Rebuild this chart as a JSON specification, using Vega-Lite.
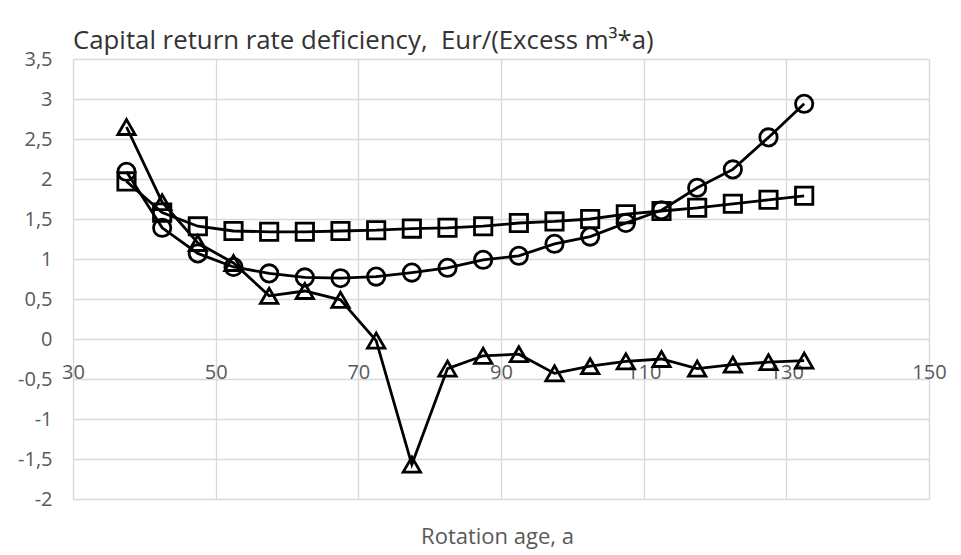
{
  "$schema": "https://vega.github.io/schema/vega-lite/v6.json",
  "width": 856,
  "height": 440,
  "autosize": {"type": "none"},
  "padding": {"left": 73, "top": 59, "right": 32, "bottom": 56},
  "background": "white",
  "title": {
    "text": "Capital return rate deficiency, \u00a0Eur/(Excess m³*a)",
    "anchor": "start",
    "frame": "group",
    "fontSize": 25.8,
    "font": "Open Sans",
    "fontWeight": "normal",
    "color": "#333333",
    "offset": -6
  },
  "config": {
    "locale": {"number": {"decimal": ",", "thousands": " ", "grouping": [3], "currency": ["", ""], "minus": "-"}},
    "view": {"stroke": null}
  },
  "data": {
    "values": [
      {"age": 37.5, "series": "Series1", "value": 2.09},
      {"age": 42.5, "series": "Series1", "value": 1.39},
      {"age": 47.5, "series": "Series1", "value": 1.07},
      {"age": 52.5, "series": "Series1", "value": 0.9},
      {"age": 57.5, "series": "Series1", "value": 0.82},
      {"age": 62.5, "series": "Series1", "value": 0.77},
      {"age": 67.5, "series": "Series1", "value": 0.76},
      {"age": 72.5, "series": "Series1", "value": 0.78},
      {"age": 77.5, "series": "Series1", "value": 0.83},
      {"age": 82.5, "series": "Series1", "value": 0.89},
      {"age": 87.5, "series": "Series1", "value": 0.99},
      {"age": 92.5, "series": "Series1", "value": 1.04},
      {"age": 97.5, "series": "Series1", "value": 1.19},
      {"age": 102.5, "series": "Series1", "value": 1.28},
      {"age": 107.5, "series": "Series1", "value": 1.45},
      {"age": 112.5, "series": "Series1", "value": 1.61},
      {"age": 117.5, "series": "Series1", "value": 1.89},
      {"age": 122.5, "series": "Series1", "value": 2.12},
      {"age": 127.5, "series": "Series1", "value": 2.52},
      {"age": 132.5, "series": "Series1", "value": 2.94},
      {"age": 37.5, "series": "Series2", "value": 1.97},
      {"age": 42.5, "series": "Series2", "value": 1.58},
      {"age": 47.5, "series": "Series2", "value": 1.41},
      {"age": 52.5, "series": "Series2", "value": 1.35},
      {"age": 57.5, "series": "Series2", "value": 1.34},
      {"age": 62.5, "series": "Series2", "value": 1.34},
      {"age": 67.5, "series": "Series2", "value": 1.35},
      {"age": 72.5, "series": "Series2", "value": 1.36},
      {"age": 77.5, "series": "Series2", "value": 1.38},
      {"age": 82.5, "series": "Series2", "value": 1.39},
      {"age": 87.5, "series": "Series2", "value": 1.41},
      {"age": 92.5, "series": "Series2", "value": 1.45},
      {"age": 97.5, "series": "Series2", "value": 1.47},
      {"age": 102.5, "series": "Series2", "value": 1.5},
      {"age": 107.5, "series": "Series2", "value": 1.56},
      {"age": 112.5, "series": "Series2", "value": 1.6},
      {"age": 117.5, "series": "Series2", "value": 1.64},
      {"age": 122.5, "series": "Series2", "value": 1.69},
      {"age": 127.5, "series": "Series2", "value": 1.74},
      {"age": 132.5, "series": "Series2", "value": 1.79},
      {"age": 37.5, "series": "Series3", "value": 2.65},
      {"age": 42.5, "series": "Series3", "value": 1.71},
      {"age": 47.5, "series": "Series3", "value": 1.2},
      {"age": 52.5, "series": "Series3", "value": 0.95},
      {"age": 57.5, "series": "Series3", "value": 0.54},
      {"age": 62.5, "series": "Series3", "value": 0.6},
      {"age": 67.5, "series": "Series3", "value": 0.49},
      {"age": 72.5, "series": "Series3", "value": -0.02},
      {"age": 77.5, "series": "Series3", "value": -1.57},
      {"age": 82.5, "series": "Series3", "value": -0.37},
      {"age": 87.5, "series": "Series3", "value": -0.21},
      {"age": 92.5, "series": "Series3", "value": -0.19},
      {"age": 97.5, "series": "Series3", "value": -0.43},
      {"age": 102.5, "series": "Series3", "value": -0.34},
      {"age": 107.5, "series": "Series3", "value": -0.28},
      {"age": 112.5, "series": "Series3", "value": -0.25},
      {"age": 117.5, "series": "Series3", "value": -0.37},
      {"age": 122.5, "series": "Series3", "value": -0.32},
      {"age": 127.5, "series": "Series3", "value": -0.29},
      {"age": 132.5, "series": "Series3", "value": -0.27}
    ]
  },
  "encoding": {
    "x": {
      "field": "age",
      "type": "quantitative",
      "scale": {"domain": [30, 150], "nice": false, "zero": false},
      "axis": {
        "values": [30, 50, 70, 90, 110, 130, 150],
        "format": "d",
        "title": "Rotation age, a",
        "offset": -160,
        "domain": false,
        "ticks": false,
        "labelFlush": false,
        "labelOverlap": false,
        "labelPadding": 39,
        "labelBaseline": "alphabetic",
        "labelFont": "Open Sans",
        "labelFontSize": 20,
        "labelColor": "#595959",
        "grid": true,
        "gridColor": "#d9d9d9",
        "gridWidth": 1.3,
        "titleFont": "Open Sans",
        "titleFontSize": 22,
        "titleFontWeight": "normal",
        "titleColor": "#595959",
        "titleBaseline": "alphabetic",
        "titleX": 424,
        "titleY": 204
      }
    },
    "y": {
      "field": "value",
      "type": "quantitative",
      "scale": {"domain": [-2, 3.5], "nice": false, "zero": false},
      "axis": {
        "values": [-2, -1.5, -1, -0.5, 0, 0.5, 1, 1.5, 2, 2.5, 3, 3.5],
        "format": ".1~f",
        "title": null,
        "domain": false,
        "ticks": false,
        "labelFlush": false,
        "labelOverlap": false,
        "labelPadding": 21,
        "labelFont": "Open Sans",
        "labelFontSize": 20,
        "labelColor": "#595959",
        "grid": true,
        "gridColor": "#d9d9d9",
        "gridWidth": 1.3
      }
    }
  },
  "layer": [
    {
      "mark": {"type": "line", "color": "black", "strokeWidth": 2.8},
      "encoding": {"detail": {"field": "series", "type": "nominal"}}
    },
    {
      "mark": {"type": "point", "filled": false, "color": "black", "strokeWidth": 2.8, "size": 300, "opacity": 1},
      "encoding": {
        "shape": {
          "field": "series",
          "type": "nominal",
          "scale": {"domain": ["Series1", "Series2", "Series3"], "range": ["circle", "square", "triangle-up"]},
          "legend": null
        }
      }
    }
  ]
}
